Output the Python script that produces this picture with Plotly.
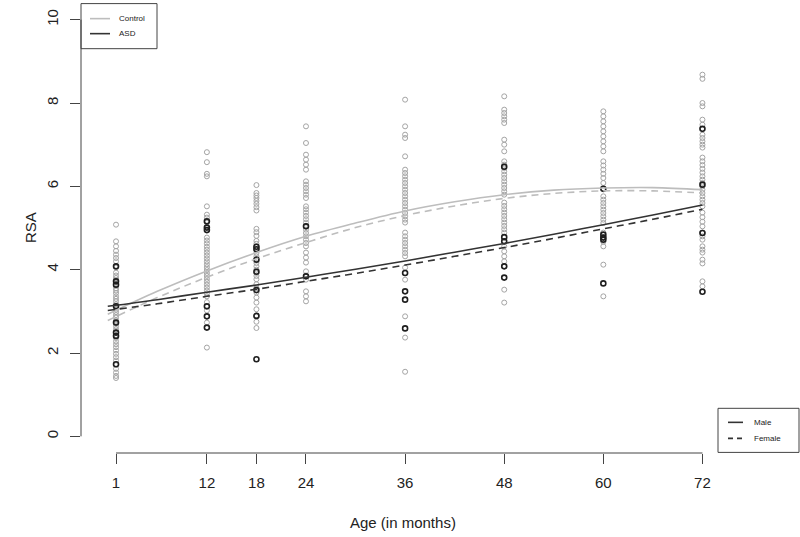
import plotly.graph_objects as go

# ---------------- data ----------------
age_ticks = [1, 12, 18, 24, 36, 48, 60, 72]
rsa_ticks = [0, 2, 4, 6, 8, 10]

ctrl_1 = [5.08, 4.68, 4.56, 4.45, 4.36, 4.28, 4.20, 4.05, 3.93, 3.86, 3.80, 3.74, 3.69, 3.62, 3.55,
          3.50, 3.44, 3.36, 3.30, 3.24, 3.17, 3.10, 3.04, 2.98, 2.91, 2.85, 2.78, 2.70, 2.64, 2.57,
          2.50, 2.42, 2.36, 2.28, 2.21, 2.14, 2.06, 1.98, 1.90, 1.82, 1.72, 1.62, 1.53, 1.45, 1.40]
ctrl_12 = [6.82, 6.58, 6.30, 6.24, 5.52, 5.32, 5.25, 5.13, 4.95, 4.77, 4.70, 4.63, 4.55, 4.48, 4.41,
           4.34, 4.27, 4.20, 4.13, 4.06, 3.99, 3.92, 3.85, 3.78, 3.71, 3.64, 3.57, 3.50, 3.43, 3.36,
           3.22, 3.02, 2.73, 2.13]
ctrl_18 = [6.03, 5.84, 5.78, 5.72, 5.65, 5.58, 5.50, 5.42, 4.98, 4.90, 4.81, 4.69, 4.62, 4.55, 4.47,
           4.40, 4.32, 4.24, 4.16, 4.08, 4.00, 3.92, 3.85, 3.77, 3.65, 3.56, 3.45, 3.33, 3.21, 3.05,
           2.90, 2.75, 2.60]
ctrl_24 = [7.44, 7.04, 6.76, 6.64, 6.52, 6.40, 6.12, 6.04, 5.96, 5.88, 5.80, 5.72, 5.52, 5.45, 5.37,
           5.29, 5.21, 5.13, 5.05, 4.96, 4.88, 4.80, 4.72, 4.64, 4.56, 4.41, 4.29, 4.17, 3.96, 3.86,
           3.76, 3.48, 3.36, 3.24]
ctrl_36 = [8.08, 7.44, 7.24, 7.16, 6.72, 6.40, 6.32, 6.24, 6.16, 6.08, 6.00, 5.92, 5.84, 5.76, 5.68,
           5.60, 5.52, 5.44, 5.36, 5.28, 5.20, 5.13, 4.89, 4.80, 4.72, 4.64, 4.56, 4.48, 4.40, 4.32,
           4.05, 3.76, 2.88, 2.37, 1.55]
ctrl_48 = [8.16, 7.84, 7.76, 7.68, 7.60, 7.52, 7.12, 7.00, 6.84, 6.60, 6.52, 6.44, 6.36, 6.28, 6.20,
           6.12, 6.04, 5.96, 5.88, 5.80, 5.61, 5.53, 5.45, 5.37, 5.29, 5.21, 5.13, 5.05, 4.97, 4.89,
           4.56, 4.44, 4.32, 4.20, 4.08, 3.52, 3.21]
ctrl_60 = [7.80, 7.68, 7.56, 7.44, 7.32, 7.20, 7.08, 6.96, 6.84, 6.60, 6.50, 6.40, 6.30, 6.20, 6.08,
           5.76, 5.68, 5.60, 5.52, 5.44, 5.36, 5.28, 5.20, 5.12, 4.89, 4.78, 4.67, 4.56, 4.12, 3.36]
ctrl_72 = [8.68, 8.58, 8.00, 7.92, 7.60, 7.48, 7.24, 7.16, 7.08, 7.00, 6.93, 6.69, 6.60, 6.51, 6.42,
           6.33, 6.24, 6.16, 6.08, 6.00, 5.92, 5.84, 5.76, 5.68, 5.60, 5.52, 5.37, 5.26, 5.15, 5.04,
           4.89, 4.80, 4.72, 4.56, 4.48, 4.41, 4.24, 4.15, 3.72, 3.60]

asd_1 = [4.08, 3.72, 3.64, 3.12, 2.73, 2.49, 2.41, 1.73]
asd_12 = [5.16, 5.01, 4.95, 3.12, 2.88, 2.61]
asd_18 = [4.55, 4.49, 4.24, 3.95, 3.51, 2.89, 1.85]
asd_24 = [5.04, 3.84]
asd_36 = [3.92, 3.48, 3.28, 2.59]
asd_48 = [6.47, 4.78, 4.68, 4.08, 3.81]
asd_60 = [5.94, 4.84, 4.77, 4.72, 3.67]
asd_72 = [7.38, 6.04, 4.88, 3.47]

fit_age = [0, 6, 12, 18, 24, 30, 36, 42, 48, 54, 60, 66, 72]
fit_ctrl_male = [2.93, 3.48, 3.97, 4.41, 4.80, 5.12, 5.41, 5.63, 5.80, 5.91, 5.96, 5.97, 5.92]
fit_ctrl_female = [2.78, 3.33, 3.82, 4.26, 4.65, 5.01, 5.30, 5.53, 5.71, 5.83, 5.89, 5.89, 5.84]
fit_asd_male = [3.12, 3.28, 3.46, 3.63, 3.82, 4.01, 4.21, 4.42, 4.63, 4.85, 5.08, 5.31, 5.55]
fit_asd_female = [3.02, 3.18, 3.36, 3.53, 3.72, 3.91, 4.11, 4.32, 4.53, 4.75, 4.98, 5.21, 5.45]

# ---------------- build ----------------
ctrl_groups = [ctrl_1, ctrl_12, ctrl_18, ctrl_24, ctrl_36, ctrl_48, ctrl_60, ctrl_72]
asd_groups = [asd_1, asd_12, asd_18, asd_24, asd_36, asd_48, asd_60, asd_72]

ctrl_x, ctrl_y, asd_x, asd_y = [], [], [], []
for a, g in zip(age_ticks, ctrl_groups):
    ctrl_x += [a] * len(g)
    ctrl_y += g
for a, g in zip(age_ticks, asd_groups):
    asd_x += [a] * len(g)
    asd_y += g

GRAY_PT = "#a4a4a4"
GRAY_LN = "#bdbdbd"
BLACK = "#1e1e1e"
FONT = "Liberation Sans, Arial, sans-serif"

fig = go.Figure()
fig.add_trace(go.Scatter(x=ctrl_x, y=ctrl_y, mode="markers", showlegend=False,
                         marker=dict(symbol="circle-open", size=5, color=GRAY_PT, line=dict(width=1))))
fig.add_trace(go.Scatter(x=asd_x, y=asd_y, mode="markers", showlegend=False,
                         marker=dict(symbol="circle-open", size=5, color=BLACK, line=dict(width=1.6))))
fig.add_trace(go.Scatter(x=fit_age, y=fit_ctrl_male, mode="lines", line_shape="spline", showlegend=False,
                         line=dict(color=GRAY_LN, width=1.6)))
fig.add_trace(go.Scatter(x=fit_age, y=fit_ctrl_female, mode="lines", line_shape="spline", showlegend=False,
                         line=dict(color=GRAY_LN, width=1.6, dash="7px,5px")))
fig.add_trace(go.Scatter(x=fit_age, y=fit_asd_male, mode="lines", line_shape="spline", showlegend=False,
                         line=dict(color="#333333", width=1.6)))
fig.add_trace(go.Scatter(x=fit_age, y=fit_asd_female, mode="lines", line_shape="spline", showlegend=False,
                         line=dict(color="#333333", width=1.6, dash="7px,5px")))

# pixel geometry of plot region
L, R, T, B = 81, 799, 3.4, 452.6
W, H = 800, 537


def px(x):
    return (x - L) / (R - L)


def py(y):
    return (B - y) / (B - T)


shapes = []
# axis lines (R style: span only the tick range)
shapes.append(dict(type="line", xref="x", yref="paper", x0=age_ticks[0], x1=age_ticks[-1], y0=0, y1=0,
                   line=dict(color="#444", width=1)))
shapes.append(dict(type="line", xref="paper", yref="y", x0=0, x1=0, y0=rsa_ticks[0], y1=rsa_ticks[-1],
                   line=dict(color="#444", width=1)))
# legend 1 (top-left)
shapes.append(dict(type="rect", xref="paper", yref="paper", x0=px(81), x1=px(157), y0=py(49), y1=py(4),
                   line=dict(color="#444", width=1)))
shapes.append(dict(type="line", xref="paper", yref="paper", x0=px(90), x1=px(110), y0=py(19), y1=py(19),
                   line=dict(color=GRAY_LN, width=1.6)))
shapes.append(dict(type="line", xref="paper", yref="paper", x0=px(90), x1=px(110), y0=py(34), y1=py(34),
                   line=dict(color="#333", width=1.6)))
# legend 2 (bottom-right)
shapes.append(dict(type="rect", xref="paper", yref="paper", x0=px(718), x1=px(799), y0=py(452), y1=py(408),
                   line=dict(color="#444", width=1)))
shapes.append(dict(type="line", xref="paper", yref="paper", x0=px(728), x1=px(743), y0=py(422), y1=py(422),
                   line=dict(color="#333", width=1.6)))
shapes.append(dict(type="line", xref="paper", yref="paper", x0=px(728), x1=px(743), y0=py(438), y1=py(438),
                   line=dict(color="#333", width=1.6, dash="5px,4px")))

ann = []


def text(x, y, s, size, angle=0, xanchor="left"):
    ann.append(dict(xref="paper", yref="paper", x=px(x), y=py(y), text=s, showarrow=False,
                    xanchor=xanchor, yanchor="middle", textangle=angle,
                    font=dict(family=FONT, size=size, color="#222")))


text(117, 19, "Control", 8)
text(117, 34, "ASD", 8)
text(752, 422, "Male", 8)
text(752, 438, "Female", 8)
text(403, 522, "Age (in months)", 15, xanchor="center")
text(30, 228, "RSA", 15, angle=-90, xanchor="center")

fig.update_layout(
    width=W, height=H,
    margin=dict(l=L, r=W - R, t=T, b=H - B, pad=0),
    paper_bgcolor="white", plot_bgcolor="white",
    shapes=shapes, annotations=ann, showlegend=False,
    font=dict(family=FONT, size=15, color="#222"),
    xaxis=dict(range=[-3.24, 83.69], tickvals=age_ticks, ticktext=[str(a) for a in age_ticks],
               showgrid=False, zeroline=False, showline=False, ticks="outside", ticklen=10,
               tickwidth=1, tickcolor="#444", ticklabelstandoff=6,
               tickfont=dict(family=FONT, size=15, color="#222")),
    yaxis=dict(range=[-0.4, 10.4], tickvals=rsa_ticks, showgrid=False, zeroline=False, showline=False,
               ticks="outside", ticklen=10, tickwidth=1, tickcolor="#444", tickangle=-90,
               ticklabelstandoff=6, tickfont=dict(family=FONT, size=15, color="#222")),
)

fig.write_html("out.html", config={"displayModeBar": False},
               post_script="document.body.style.margin='0';document.body.style.overflow='hidden';")
